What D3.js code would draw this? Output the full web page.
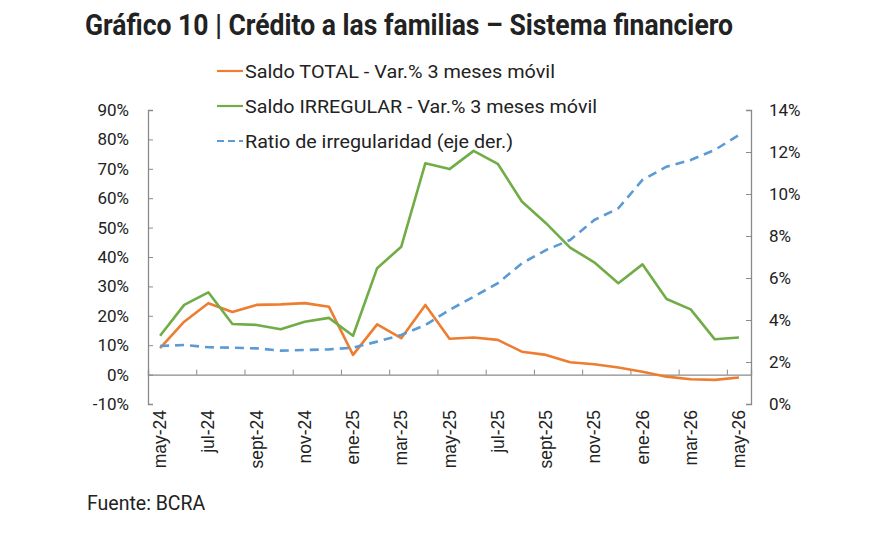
<!DOCTYPE html>
<html>
<head>
<meta charset="utf-8">
<script src="https://cdn.jsdelivr.net/npm/d3@7"></script>
<style>
  body { margin: 0; background: #fff; }
  text { fill: #222; }
</style>
</head>
<body>
<div id="chart"></div>
<script>
// constantes
const width = 890
const height = 540
const margin = { left: 148, right: 139, top: 110, bottom: 136 }

// datos
const meses = ["may-24","jun-24","jul-24","ago-24","sept-24","oct-24","nov-24","dic-24",
  "ene-25","feb-25","mar-25","abr-25","may-25","jun-25","jul-25","ago-25","sept-25","oct-25",
  "nov-25","dic-25","ene-26","feb-26","mar-26","abr-26","may-26"]
const saldoTotal = [9.0, 18.0, 24.3, 21.3, 23.7, 23.9, 24.3, 23.1, 6.7, 17.1, 12.4, 23.7, 12.2,
  12.6, 11.8, 7.8, 6.7, 4.2, 3.5, 2.4, 1.0, -0.7, -1.6, -1.8, -1.0]
const saldoIrregular = [13.2, 23.7, 28.0, 17.2, 16.9, 15.4, 18.0, 19.3, 13.2, 36.2, 43.5, 71.9, 69.9,
  76.1, 71.7, 58.9, 51.5, 43.2, 38.2, 31.1, 37.5, 25.7, 22.2, 12.0, 12.6]
const ratioIrreg = [2.76, 2.81, 2.70, 2.68, 2.65, 2.54, 2.57, 2.60, 2.68, 2.97, 3.29, 3.76, 4.48,
  5.11, 5.75, 6.70, 7.33, 7.81, 8.76, 9.32, 10.67, 11.30, 11.62, 12.10, 12.81]
const ticksIzq = [-10, 0, 10, 20, 30, 40, 50, 60, 70, 80, 90]
const ticksDer = [0, 2, 4, 6, 8, 10, 12, 14]

const series = [
  { nombre: "Saldo TOTAL - Var.% 3 meses móvil", valores: saldoTotal, color: "#ED7D31", eje: "izq", dash: null },
  { nombre: "Saldo IRREGULAR - Var.% 3 meses móvil", valores: saldoIrregular, color: "#70AD47", eje: "izq", dash: null },
  { nombre: "Ratio de irregularidad (eje der.)", valores: ratioIrreg, color: "#5B9BD5", eje: "der", dash: "9,6" }
]
// ancho de cada texto de la leyenda (medido en la imagen)
const anchoLeyenda = [310, 352, 268]

// svg
const svg = d3.select("#chart").append("svg").attr("width", width).attr("height", height)

// escalas
const x = d3.scaleBand().domain(meses).range([margin.left, width - margin.right])
const xIdx = d3.scaleLinear().domain([0, meses.length]).range([margin.left, width - margin.right])
const yIzq = d3.scaleLinear().domain([-10, 90]).range([height - margin.bottom, margin.top])
const yDer = d3.scaleLinear().domain([0, 14]).range([height - margin.bottom, margin.top])
const cx = d => x(d) + x.bandwidth() / 2

const gris = "#8a8a8a"

// eje izquierdo
const gIzq = svg.append("g").attr("transform", `translate(${margin.left},0)`)
  .call(d3.axisLeft(yIzq).tickValues(ticksIzq).tickSize(-5).tickPadding(19).tickFormat(d => d + "%"))
// eje derecho
const gDer = svg.append("g").attr("transform", `translate(${width - margin.right},0)`)
  .call(d3.axisRight(yDer).tickValues(ticksDer).tickSize(-5).tickPadding(18).tickFormat(d => d + "%"))

;[gIzq, gDer].forEach(g => {
  g.select(".domain").attr("stroke", gris).attr("stroke-width", 1.3)
  g.selectAll(".tick line").attr("stroke", gris)
  g.selectAll(".tick text").attr("font-family", "Roboto, sans-serif").attr("font-size", 17).attr("fill", "#333")
})

// eje x (linea del cero)
const gX = svg.append("g").attr("transform", `translate(0,${yIzq(0)})`)
  .call(d3.axisBottom(xIdx).tickValues(d3.range(0, meses.length + 1, 2)).tickSize(-5).tickFormat(""))
gX.select(".domain").attr("stroke", gris).attr("stroke-width", 1.3)
gX.selectAll(".tick line").attr("stroke", gris)

// etiquetas x
const gXlab = svg.append("g").attr("transform", `translate(0,${height - margin.bottom})`)
  .call(d3.axisBottom(x).tickValues(meses.filter((d, i) => i % 2 === 0)).tickSize(0))
gXlab.select(".domain").remove()
gXlab.selectAll(".tick text")
  .attr("font-family", "'Liberation Sans', Arial, sans-serif").attr("font-size", 17.5).attr("fill", "#333")
  .attr("transform", "rotate(-90)")
  .attr("text-anchor", "end")
  .attr("x", -6).attr("y", 0).attr("dy", "0.35em")

// lineas
series.forEach(s => {
  const y = s.eje === "izq" ? yIzq : yDer
  const linea = d3.line().x((d, i) => cx(meses[i])).y(d => y(d))
  svg.append("path").datum(s.valores)
    .attr("fill", "none")
    .attr("stroke", s.color)
    .attr("stroke-width", 2.6)
    .attr("stroke-linejoin", "round")
    .attr("stroke-dasharray", s.dash)
    .attr("d", linea)
})

// leyenda
const leyenda = svg.append("g").attr("transform", "translate(217,71)")
series.forEach((s, i) => {
  const g = leyenda.append("g").attr("transform", `translate(0,${i * 35})`)
  g.append("line").attr("x1", 0).attr("x2", 26).attr("y1", 0).attr("y2", 0)
    .attr("stroke", s.color).attr("stroke-width", 2.2).attr("stroke-dasharray", s.dash ? "7,4" : null)
  g.append("text").attr("x", 28).attr("y", 0).attr("dy", "0.35em")
    .attr("font-family", "Roboto, sans-serif").attr("font-size", 19)
    .attr("textLength", anchoLeyenda[i]).attr("lengthAdjust", "spacingAndGlyphs")
    .text(s.nombre)
})

// titulo
svg.append("text").attr("x", 85).attr("y", 35)
  .attr("font-family", "Roboto, sans-serif").attr("font-weight", 700).attr("font-size", 30)
  .attr("textLength", 648).attr("lengthAdjust", "spacingAndGlyphs")
  .attr("fill", "#111")
  .text("Gráfico 10 | Crédito a las familias – Sistema financiero")

// fuente
svg.append("text").attr("x", 87).attr("y", 510)
  .attr("font-family", "Roboto, sans-serif").attr("font-size", 19.5)
  .text("Fuente: BCRA")
</script>
</body>
</html>
